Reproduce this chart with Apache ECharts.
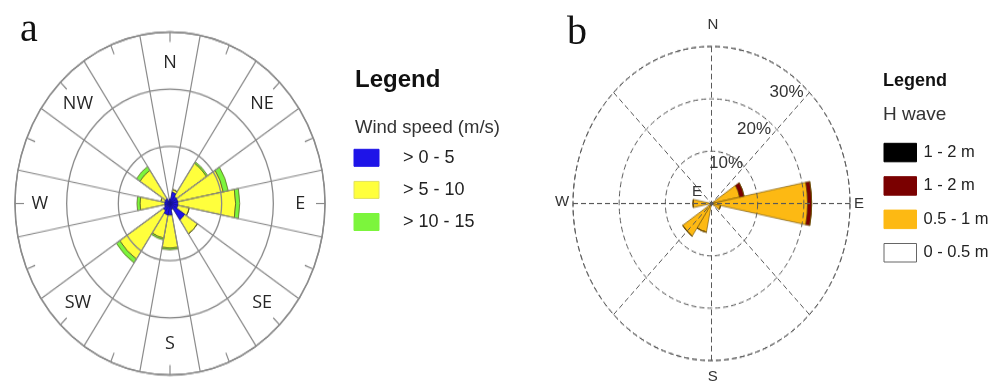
<!DOCTYPE html>
<html><head><meta charset="utf-8">
<script src="https://cdn.jsdelivr.net/npm/echarts@6/dist/echarts.min.js"></script>
<style>
html,body{margin:0;padding:0;background:#fff;}
#wrap{position:relative;width:992px;height:383px;overflow:hidden;background:#fff;}
.layer{position:absolute;left:0;top:0;width:992px;height:383px;}
#polarA{transform-origin:170px 203.5px;transform:scaleY(1.1065);}
#polarB{transform-origin:711.5px 203.5px;transform:scaleY(1.1336);}
</style></head>
<body>
<div id="wrap"><div id="polarA" class="layer"></div><div id="polarB" class="layer"></div><div id="overlay" class="layer"></div></div>
<script>
// ---------- data ----------
const directions = ['N','NNE','NE','ENE','E','ESE','SE','SSE','S','SSW','SW','WSW','W','WNW','NW','NNW'];
// Panel a: wind speed classes (relative units, ring spacing = 10)
const windLow  = [0.8, 2.0, 1.5, 1.5, 1.5, 1.5, 3.4, 1.0, 2.0, 2.0, 1.5, 1.0, 1.0, 1.0, 1.0, 0.5];   // > 0 - 5
const windMid  = [0,   0.5, 7.0, 9.0, 11.2,2.3, 3.0, 0,   5.8, 4.2, 10.2,0,   4.8, 0.8, 6.0, 0  ];   // > 5 - 10
const windHigh = [0,   0,   0.3, 1.0, 0.8, 0,   0,   0,   0.3, 0.3, 0.8, 0,   0.6, 0,   0.8, 0  ];   // > 10 - 15
const windNames = ['> 0 - 5', '> 5 - 10', '> 10 - 15'];
// Panel b: wave height classes (%)
const waveLow     = [0,0,0,0,0,0,0,0,0,0,0,0,0,0,0,0];            // 0 - 0.5 m
const waveMid     = [0,0,0,6.2,20.8,2.0,0,0,0,5.6,7.5,0,4.0,0,0,0]; // 0.5 - 1 m
const waveHigh    = [0,0,0,1.0,0.9,0,0,0,0,0,0,0,0,0,0,0];       // 1 - 2 m (dark red)
const waveTop     = [0,0,0,0,0,0,0,0,0,0,0,0,0,0,0,0];            // 1 - 2 m (black)
const waveNames = ['1 - 2 m', '1 - 2 m', '0.5 - 1 m', '0 - 0.5 m'];
const ringLabelsB = ['10%', '20%', '30%'];
const compassA = ['N','NE','E','SE','S','SW','W','NW'];
const compassB = ['N','E','S','W'];

// ---------- panel a ----------
const A = {cx:170, cy:203.5, rx:155, ry:171.5};
const colA = ['#1e14e8', '#ffff3c', '#7cf53c'];
const chartA = echarts.init(document.getElementById('polarA'));
const windSeries = [windLow, windMid, windHigh].map((d, i) => ({
  type:'bar', coordinateSystem:'polar', polarIndex:0, name:windNames[i], data:d, stack:'wind',
  barCategoryGap:'0%', z:(i === 0 ? 12 : 2),
  itemStyle:{color:colA[i], borderColor:(i === 0 ? '#14108a' : '#55551e'), borderWidth:0.7}
}));
const gridA = {color:'#8a8a8a', width:1.2};
chartA.setOption({
  animation:false,
  polar:[{center:[A.cx, A.cy], radius:A.rx}, {center:[A.cx, A.cy], radius:A.rx}],
  angleAxis:[
    {polarIndex:0, type:'category', data:directions, startAngle:101.25, clockwise:true, z:10,
      axisLine:{show:false}, axisTick:{show:false}, axisLabel:{show:false},
      splitLine:{show:true, interval:0, lineStyle:gridA}},
    {polarIndex:1, type:'value', min:0, max:360, interval:22.5, startAngle:90, clockwise:true, z:10,
      axisLine:{show:true, lineStyle:{color:'#8a8a8a', width:1.4}},
      axisTick:{show:true, inside:true, length:9, lineStyle:gridA},
      axisLabel:{show:false}, splitLine:{show:false}}
  ],
  radiusAxis:[
    {polarIndex:0, type:'value', min:0, max:30, interval:10, z:10,
      axisLine:{show:false}, axisTick:{show:false}, axisLabel:{show:false},
      splitLine:{show:true, lineStyle:{color:'#8a8a8a', width:1.3}}},
    {polarIndex:1, type:'value', min:0, max:30, interval:10,
      axisLine:{show:false}, axisTick:{show:false}, axisLabel:{show:false}, splitLine:{show:false}}
  ],
  series:windSeries
});

// ---------- panel b ----------
const B = {cx:711.5, cy:203.5, rx:138.5, ry:157};
const colB = ['#ffffff', '#fdb913', '#7a0000', '#000000'];
const chartB = echarts.init(document.getElementById('polarB'));
const waveSeries = [waveLow, waveMid, waveHigh, waveTop].map((d, i) => ({
  type:'bar', coordinateSystem:'polar', polarIndex:0, name:waveNames[3 - i], data:d, stack:'wave',
  barCategoryGap:'0%', z:2,
  itemStyle:{color:colB[i], borderColor:'#6a4a00', borderWidth:0.6}
}));
const dashed = {type:[5,3], color:'#5a5a5a', width:1};
chartB.setOption({
  animation:false,
  polar:[{center:[B.cx, B.cy], radius:B.rx}, {center:[B.cx, B.cy], radius:B.rx}],
  angleAxis:[
    {polarIndex:0, type:'category', data:directions, startAngle:101.25, clockwise:true,
      axisLine:{show:false}, axisTick:{show:false}, axisLabel:{show:false}, splitLine:{show:false}},
    {polarIndex:1, type:'value', min:0, max:360, interval:45, startAngle:90, clockwise:true, z:10,
      axisLine:{show:true, lineStyle:dashed}, axisTick:{show:false}, axisLabel:{show:false},
      splitLine:{show:true, lineStyle:dashed}}
  ],
  radiusAxis:[
    {polarIndex:0, type:'value', min:0, max:30, interval:10,
      axisLine:{show:false}, axisTick:{show:false}, axisLabel:{show:false}, splitLine:{show:false}},
    {polarIndex:1, type:'value', min:0, max:30, interval:10, z:10,
      axisLine:{show:false}, axisTick:{show:false}, axisLabel:{show:false},
      splitLine:{show:true, lineStyle:dashed}}
  ],
  series:waveSeries
});

// ---------- overlay: texts and legends ----------
function txt(x, y, text, font, fill, align) {
  return {type:'text', x:x, y:y, z:20, style:{text:text, font:font, fill:fill,
    align:align || 'left', textAlign:align || 'left', verticalAlign:'middle', textVerticalAlign:'middle'}};
}
function rect(x, y, w, h, fill, stroke) {
  return {type:'rect', z:20, shape:{x:x, y:y, width:w, height:h},
    style:{fill:fill, stroke:stroke || fill, lineWidth:1}};
}
const g = [];
g.push(txt(20, 30, 'a', '40px "Liberation Serif"', '#111'));
g.push(txt(567, 33.5, 'b', '40px "Liberation Serif"', '#111'));
// panel a compass labels
compassA.forEach((lab, i) => {
  const ang = i * 45 * Math.PI / 180;
  g.push(txt(A.cx + 0.84 * A.rx * Math.sin(ang), A.cy - 0.82 * A.ry * Math.cos(ang), lab,
    '18px "Open Sans"', '#262626', 'center'));
});
// panel a legend
g.push(txt(355, 80.5, 'Legend', 'bold 24px "Liberation Sans"', '#111'));
g.push(txt(355, 127.5, 'Wind speed (m/s)', '18.5px "Liberation Sans"', '#333'));
windNames.forEach((n, i) => {
  g.push(rect(354, 149.3 + i * 32.1, 25, 17, colA[i], i === 1 ? '#e0e060' : colA[i]));
  g.push(txt(403, 158 + i * 32.1, n, '18px "Liberation Sans"', '#222'));
});
// panel b compass labels
const posB = [[713, 25], [859, 204], [712.7, 377], [562, 202]];
compassB.forEach((lab, i) => g.push(txt(posB[i][0], posB[i][1], lab, '15px "Liberation Sans"', '#333', 'center')));
g.push(txt(697, 192, 'E', '15px "Liberation Sans"', '#333', 'center'));
const posRing = [[726, 163.5], [754, 129], [786.5, 92]];
ringLabelsB.forEach((lab, i) => g.push(txt(posRing[i][0], posRing[i][1], lab, '17px "Liberation Sans"', '#333', 'center')));
// panel b legend
g.push(txt(883, 81, 'Legend', 'bold 18px "Liberation Sans"', '#111'));
g.push(txt(883, 115, 'H wave', '19px "Liberation Sans"', '#333'));
const legColB = ['#000000', '#7a0000', '#fdb913', '#ffffff'];
waveNames.forEach((n, i) => {
  g.push(rect(884, 143.3 + i * 33.4, 32.5, 18.5, legColB[i], i === 3 ? '#666' : legColB[i]));
  g.push(txt(923.5, 152.5 + i * 33.4, n, '16.5px "Liberation Sans"', '#222'));
});
const overlay = echarts.init(document.getElementById('overlay'));
overlay.setOption({animation:false, graphic:g});
</script>
</body></html>
